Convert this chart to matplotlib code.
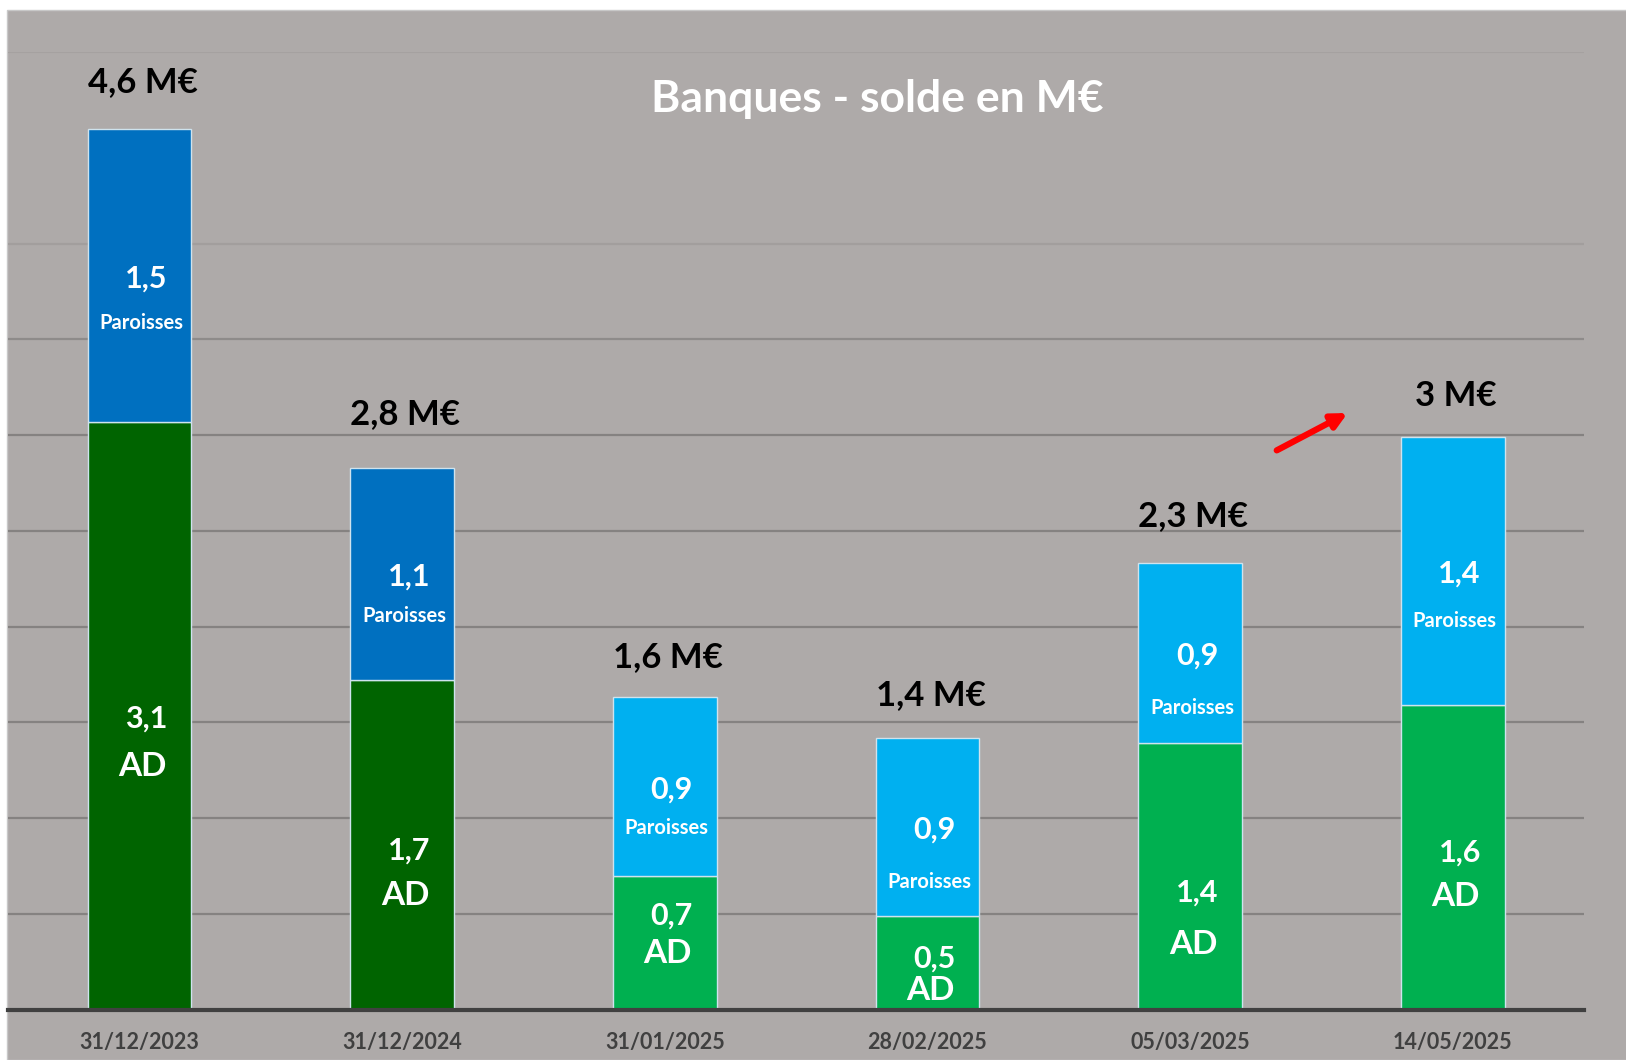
import matplotlib
import numpy as np

matplotlib.use('Agg')
from matplotlib import pyplot as plt
from matplotlib.patches import Rectangle

# data (M€)
dates = ["31/12/2023", "31/12/2024", "31/01/2025", "28/02/2025", "05/03/2025", "14/05/2025"]
ad = [3.07, 1.72, 0.70, 0.49, 1.39, 1.59]
paroisses = [1.53, 1.11, 0.93, 0.93, 0.94, 1.40]

# colours: first two dates darker shades
ad_colors = ["#006400", "#006400", "#00B050", "#00B050", "#00B050", "#00B050"]
par_colors = ["#0070C0", "#0070C0", "#00B0F0", "#00B0F0", "#00B0F0", "#00B0F0"]

# label offsets in pixels (value label dy, gap to name label) per bar
ad_dy = [-3, -6, 27, 4, -16, 5]
ad_gap = [48, 45, 38, 32, 52, 44]
par_dy = [-3, -3, -3, -3, -2, -3]
par_gap = [45, 39, 39, 52, 53, 47]
total_dy = [47, 54, 40, 43, 47, 41]

bg = "#AEAAA9"
FONT = "Lato"


def fmt(v):
    s = "%.1f" % v
    if s.endswith(".0"):
        s = s[:-2]
    return s.replace(".", ",")


fig = plt.figure(figsize=(16.26, 10.6), dpi=100, facecolor="white")
fig.patches.append(Rectangle((7 / 1626, 0), 1, 1 - 10 / 1060, transform=fig.transFigure,
                             facecolor=bg, edgecolor="#C8C8C8", linewidth=1, zorder=-10))

ax = fig.add_axes([8.3 / 1626, 50.4 / 1060, (1584 - 8.3) / 1626, (1008 - 50.4) / 1060])
ax.set_facecolor("none")

ind = np.arange(len(dates))
width = 0.395
totals = [a + p for a, p in zip(ad, paroisses)]

ax.bar(ind, ad, width=width, color=ad_colors, edgecolor="#CFE3EE", linewidth=1, zorder=3)
ax.bar(ind, paroisses, width=width, bottom=ad, color=par_colors, edgecolor="#CFE3EE",
       linewidth=1, zorder=3)

ax.set_xlim(-0.5, len(dates) - 0.5)
ax.set_ylim(0, 5)

# gridlines
grid_levels = [0.5, 1.0, 1.5, 2.0, 2.5, 3.0, 3.5, 4.0, 5.0]
grid_colors = ["#858281"] * 6 + ["#8E8B8A", "#A29E9D", "#A5A1A0"]
for lvl, c in zip(grid_levels, grid_colors):
    ax.axhline(lvl, color=c, linewidth=1.6, zorder=1)

for s in ["top", "right", "left"]:
    ax.spines[s].set_visible(False)
ax.spines["bottom"].set_color("#404040")
ax.spines["bottom"].set_linewidth(3)
ax.spines["bottom"].set_zorder(4)
ax.set_yticks([])
ax.set_xticks(ind)
ax.set_xticklabels(dates, fontsize=15.5, fontweight="bold", color="#404040", family=FONT)
ax.tick_params(axis="x", length=0, pad=16)

for i in ind:
    # AD segment
    yc = ad[i] / 2
    ax.annotate(fmt(ad[i]), (i, yc), xytext=(7, ad_dy[i]), textcoords="offset pixels",
                ha="center", va="center", color="white", fontsize=22, fontweight="bold",
                family=FONT, zorder=5)
    ax.annotate("AD", (i, yc), xytext=(3, ad_dy[i] - ad_gap[i]), textcoords="offset pixels",
                ha="center", va="center", color="white", fontsize=24, fontweight="bold",
                family=FONT, zorder=5)
    # Paroisses segment
    yc = ad[i] + paroisses[i] / 2
    ax.annotate(fmt(paroisses[i]), (i, yc), xytext=(7, par_dy[i]), textcoords="offset pixels",
                ha="center", va="center", color="white", fontsize=22, fontweight="bold",
                family=FONT, zorder=5)
    ax.annotate("Paroisses", (i, yc), xytext=(2, par_dy[i] - par_gap[i]),
                textcoords="offset pixels", ha="center", va="center", color="white",
                fontsize=14.5, fontweight="bold", family=FONT, zorder=5)
    # total
    ax.annotate(fmt(totals[i]) + " M€", (i, totals[i]), xytext=(3, total_dy[i]),
                textcoords="offset pixels", ha="center", va="center", color="black",
                fontsize=25, fontweight="bold", family=FONT, zorder=5)

# red arrow
ax.annotate("", xy=(4.60, 3.115), xytext=(4.33, 2.92),
            arrowprops=dict(arrowstyle="-|>,head_length=0.9,head_width=0.45",
                            color="#FF0000", lw=4.5, shrinkA=0, shrinkB=0), zorder=6)

fig.text(877 / 1626, 1 - 99 / 1060, "Banques - solde en M€", ha="center",
         va="center", color="white", fontsize=32, fontweight="bold", family=FONT)

plt.savefig("out.png", dpi=100, facecolor=fig.get_facecolor())
